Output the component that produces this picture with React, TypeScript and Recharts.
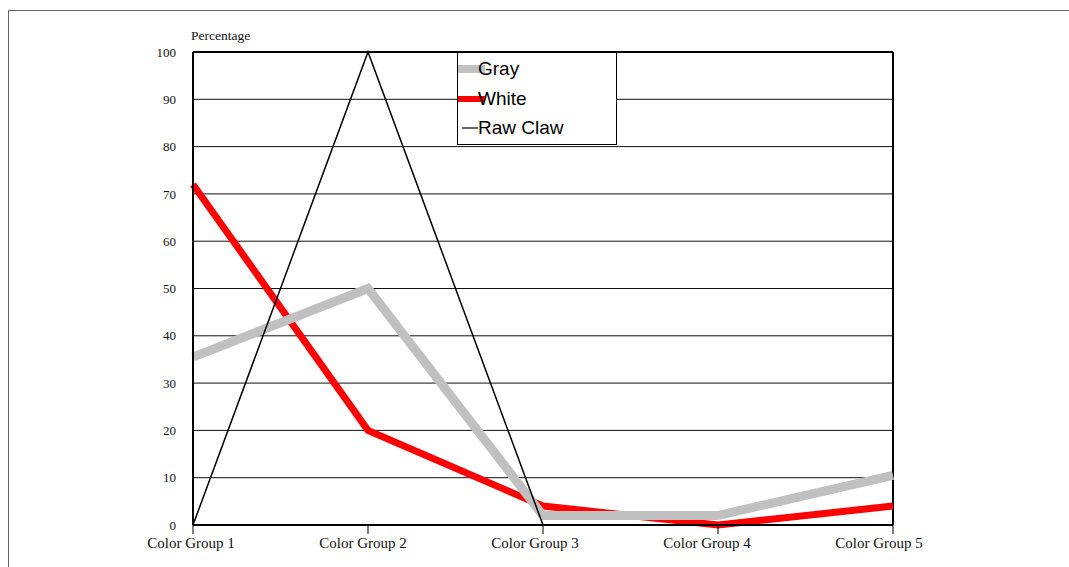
import React from "react";
import {
  CartesianGrid,
  Line,
  LineChart,
  ReferenceLine,
  XAxis,
  YAxis,
} from "recharts";

const categories = [
  "Color Group 1",
  "Color Group 2",
  "Color Group 3",
  "Color Group 4",
  "Color Group 5",
];
const grayValues = [35.5, 50, 2, 2, 10.5];
const whiteValues = [72, 20, 4, 0, 4];
const rawClawValues = [0, 100, 0, 0, 0];
const yTicks = [0, 10, 20, 30, 40, 50, 60, 70, 80, 90, 100];

const data = categories.map((name, i) => ({
  name,
  gray: grayValues[i],
  white: whiteValues[i],
  rawClaw: rawClawValues[i],
}));

const SERIF = '"Liberation Serif", "Times New Roman", serif';
const SANS = '"Liberation Sans", Arial, sans-serif';

// legend rows, in the order they are listed (not draw order)
const legendRows = [
  { key: "gray", label: "Gray", color: "#c0c0c0", width: 8, x1: 0, x2: 27 },
  { key: "white", label: "White", color: "#ff0000", width: 6, x1: 0, x2: 27 },
  { key: "rawClaw", label: "Raw Claw", color: "#000000", width: 1.2, x1: 4, x2: 20 },
];

function LegendBox() {
  return (
    <div
      style={{
        position: "absolute",
        left: 457,
        top: 52,
        width: 158,
        height: 91,
        border: "1.5px solid #000",
        background: "#fff",
        fontFamily: SANS,
        fontSize: 19,
        color: "#000",
      }}
    >
      {legendRows.map((r, i) => (
        <div
          key={r.key}
          style={{ position: "absolute", left: 0, top: 3 + i * 29.5, height: 26, width: 158 }}
        >
          <svg width={30} height={26} style={{ position: "absolute", left: 0, top: 0 }}>
            <line x1={r.x1} x2={r.x2} y1={13} y2={13} stroke={r.color} strokeWidth={r.width} />
          </svg>
          <span style={{ position: "absolute", left: 20, top: 1, lineHeight: "24px" }}>
            {r.label}
          </span>
        </div>
      ))}
    </div>
  );
}

// category labels drift a little left of their tick, more so toward the right
function CategoryTick(props: any) {
  const { x, y, payload, index } = props;
  const i = typeof index === "number" ? index : payload.index ?? 0;
  return (
    <text
      x={x - 2 - i * 3}
      y={y}
      dy="0.72em"
      textAnchor="middle"
      fontFamily={SERIF}
      fontSize={15}
      fill="#111"
    >
      {payload.value}
    </text>
  );
}

export default function App() {
  return (
    <div
      style={{
        position: "absolute",
        left: 0,
        top: 0,
        width: 1069,
        height: 567,
        background: "#fff",
        overflow: "hidden",
      }}
    >
      {/* outer page frame */}
      <div
        style={{
          position: "absolute",
          left: 8,
          top: 10,
          width: 1080,
          height: 600,
          borderTop: "1px solid #666",
          borderLeft: "1px solid #666",
        }}
      />
      <div
        style={{
          position: "absolute",
          left: 191,
          top: 28,
          fontFamily: SERIF,
          fontSize: 13.5,
          color: "#111",
        }}
      >
        Percentage
      </div>
      <div style={{ position: "absolute", left: 0, top: 0 }}>
        <LineChart
          width={1069}
          height={567}
          data={data}
          margin={{ top: 52, right: 176, bottom: 12, left: 133 }}
        >
          <CartesianGrid vertical={false} stroke="#111" strokeWidth={1} />
          <XAxis
            dataKey="name"
            axisLine={{ stroke: "#000", strokeWidth: 2 }}
            tickLine={{ stroke: "#000" }}
            tickSize={9}
            tickMargin={3}
            height={30}
            interval={0}
            tick={<CategoryTick />}
          />
          <YAxis
            domain={[0, 100]}
            ticks={yTicks}
            width={60}
            axisLine={{ stroke: "#000", strokeWidth: 2 }}
            tickLine={false}
            tickMargin={11}
            tick={{ fontFamily: SERIF, fontSize: 13, fill: "#111" }}
          />
          <ReferenceLine y={100} stroke="#000" strokeWidth={2} />
          <ReferenceLine x="Color Group 5" stroke="#000" strokeWidth={2} />
          <Line
            dataKey="white"
            name="White"
            stroke="#ff0000"
            strokeWidth={7}
            dot={false}
            activeDot={false}
            isAnimationActive={false}
          />
          <Line
            dataKey="gray"
            name="Gray"
            stroke="#c0c0c0"
            strokeWidth={9}
            dot={false}
            activeDot={false}
            isAnimationActive={false}
          />
          <Line
            dataKey="rawClaw"
            name="Raw Claw"
            stroke="#000"
            strokeWidth={1.5}
            dot={false}
            activeDot={false}
            isAnimationActive={false}
          />
        </LineChart>
      </div>
      <LegendBox />
    </div>
  );
}
